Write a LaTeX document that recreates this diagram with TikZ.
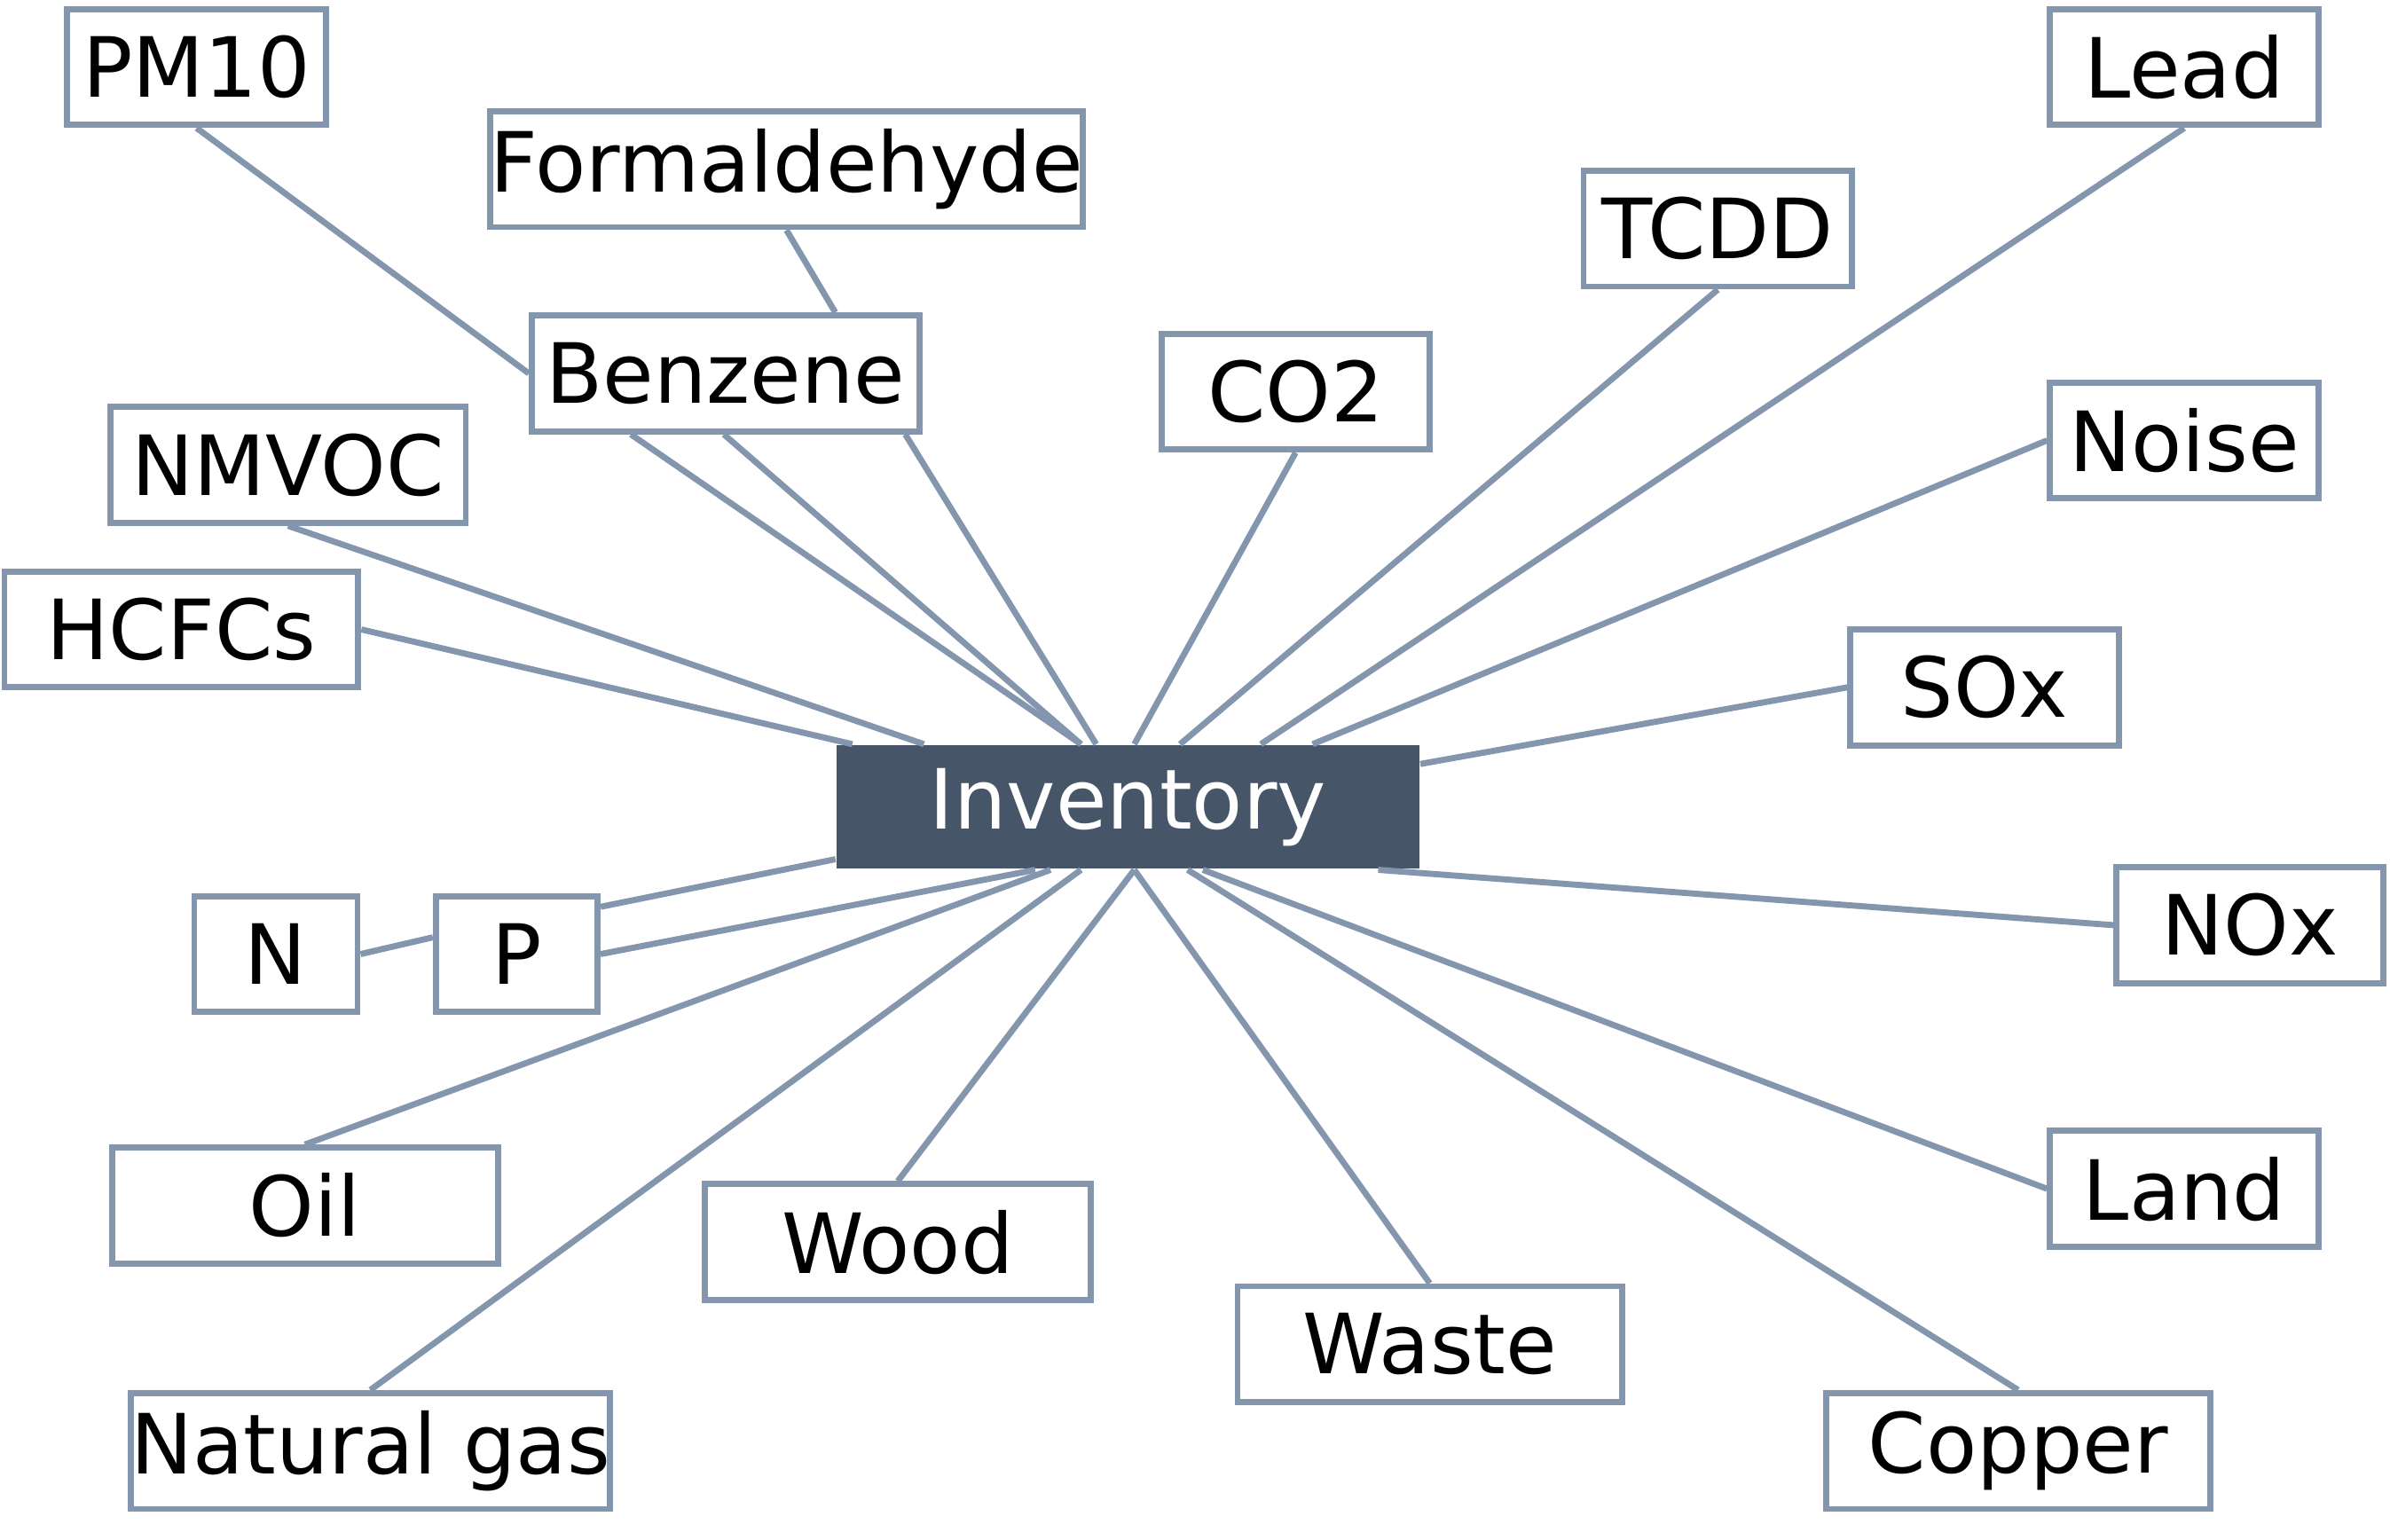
\documentclass[tikz,border=0pt]{standalone}
\usepackage{fontspec}
\setmainfont{DejaVu Sans}
\usetikzlibrary{calc}
\definecolor{ln}{HTML}{8496AE}
\definecolor{dk}{HTML}{475569}
\begin{document}
\begin{tikzpicture}[x=0.01cm,y=-0.01cm,
  box/.style={draw=ln,line width=0.04cm,fill=white,inner sep=0pt,minimum height=0.76cm,font=\fontsize{15.5}{18}\selectfont},
  con/.style={draw=ln,line width=0.04cm}]
\useasboundingbox (0,0) rectangle (1568,1010);
\node[inner sep=0pt,fill=dk,minimum width=3.82cm,minimum height=0.81cm,text=white,font=\fontsize{15.5}{18}\selectfont] (inv) at (740,529.5) {Inventory};
\node[box,minimum width=1.70cm] (pm) at (129,44) {PM10};
\node[box,minimum width=3.78cm] (form) at (516,111) {Formaldehyde};
\node[box,minimum width=2.54cm] (ben) at (476,245) {Benzene};
\node[box,minimum width=2.33cm] (nm) at (189,305) {NMVOC};
\node[box,minimum width=2.32cm] (hc) at (119,413) {HCFCs};
\node[box,minimum width=1.76cm] (co) at (850,257) {CO2};
\node[box,minimum width=1.76cm] (tc) at (1127,150) {TCDD};
\node[box,minimum width=1.76cm] (lead) at (1433,44) {Lead};
\node[box,minimum width=1.76cm] (noise) at (1433,289) {Noise};
\node[box,minimum width=1.76cm] (sox) at (1302,451) {SOx};
\node[box,minimum width=1.75cm] (nox) at (1476,607) {NOx};
\node[box,minimum width=1.76cm] (land) at (1433,780) {Land};
\node[box,minimum width=2.52cm] (cu) at (1324,952) {Copper};
\node[box,minimum width=2.52cm] (waste) at (938,882) {Waste};
\node[box,minimum width=2.53cm] (wood) at (589,815) {Wood};
\node[box,minimum width=3.13cm] (gas) at (243,952) {Natural gas};
\node[box,minimum width=2.53cm] (oil) at (200,791) {Oil};
\node[box,minimum width=1.07cm] (n) at (181,626) {N};
\node[box,minimum width=1.06cm] (p) at (339,626) {P};
\begin{scope}[on background layer/.style={}]
\end{scope}
\begin{pgfonlayer}{main}\end{pgfonlayer}
\path[con] (pm.south) -- (ben.west);
\path[con] (form.south) -- ($(ben.north)+(72,0)$);
\path[con] ($(ben.south west)+(67,0)$) -- ($(inv.north west)+(161,0)$);
\path[con] ($(ben.south west)+(128,0)$) -- ($(inv.north west)+(161,0)$);
\path[con] ($(ben.south west)+(247,0)$) -- ($(inv.north west)+(171,0)$);
\path[con] (nm.south) -- ($(inv.north west)+(58,0)$);
\path[con] (hc.east) -- ($(inv.north west)+(11,0)$);
\path[con] (co.south) -- ($(inv.north west)+(196,0)$);
\path[con] (tc.south) -- ($(inv.north west)+(226,0)$);
\path[con] (lead.south) -- ($(inv.north west)+(279,0)$);
\path[con] (noise.west) -- ($(inv.north west)+(313,0)$);
\path[con] (sox.west) -- ($(inv.north east)+(0,13)$);
\path[con] (nox.west) -- ($(inv.south west)+(356,0)$);
\path[con] (land.west) -- ($(inv.south west)+(241,0)$);
\path[con] (cu.north) -- ($(inv.south west)+(231,0)$);
\path[con] (waste.north) -- ($(inv.south west)+(196,0)$);
\path[con] (wood.north) -- ($(inv.south west)+(196,0)$);
\path[con] (gas.north) -- ($(inv.south west)+(161,0)$);
\path[con] (oil.north) -- ($(inv.south west)+(141,0)$);
\path[con] (p.east) -- ($(inv.south west)+(131,0)$);
\path[con] ($(p.north east)+(0,9)$) -- ($(inv.south west)+(0,-7)$);
\path[con] (n.east) -- ($(p.west)+(0,-11)$);
\end{tikzpicture}
\end{document}
